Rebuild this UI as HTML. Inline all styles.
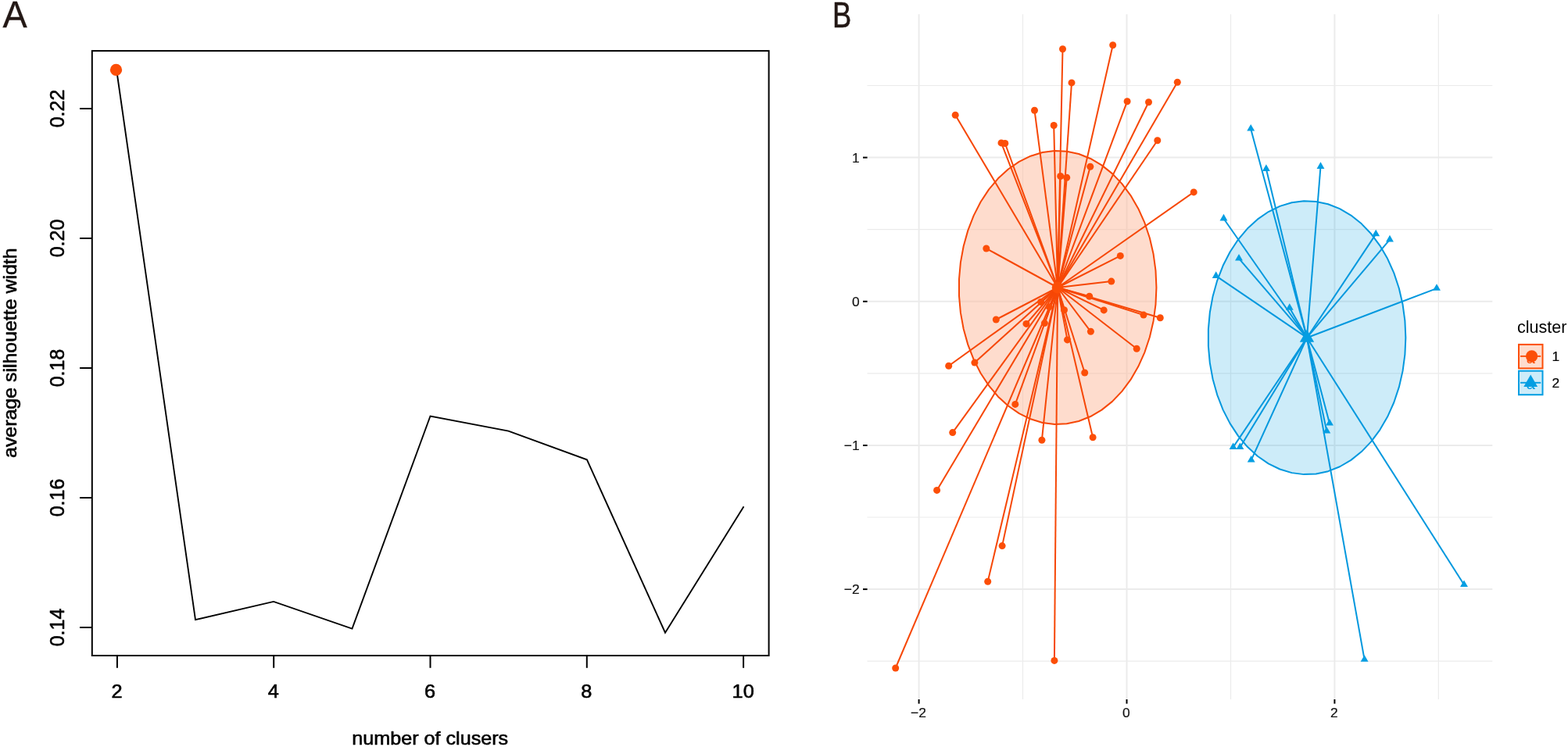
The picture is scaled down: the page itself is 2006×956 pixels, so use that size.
<!DOCTYPE html>
<html lang="en">
<head>
<meta charset="utf-8">
<title>Silhouette width and cluster plot</title>
<style>
html,body{margin:0;padding:0;background:#ffffff;}
body{width:2006px;height:956px;overflow:hidden;font-family:"Liberation Sans",sans-serif;}
svg{display:block;}
</style>
</head>
<body>
<svg width="2006" height="956" viewBox="0 0 2006 956" font-family="Liberation Sans, sans-serif">
<rect x="0" y="0" width="2006" height="956" fill="#ffffff"/>
<g id="panelA">
<text x="3.5" y="35.4" font-size="47.3" fill="#231815" stroke="#231815" stroke-width="0.3" textLength="31.2" lengthAdjust="spacingAndGlyphs">A</text>
<rect x="117.8" y="65.1" width="865.8" height="773.9" fill="none" stroke="#000" stroke-width="2"/>
<g stroke="#000" stroke-width="2" fill="none">
<line x1="149.9" y1="839.0" x2="149.9" y2="854.8"/>
<line x1="350.2" y1="839.0" x2="350.2" y2="854.8"/>
<line x1="550.5" y1="839.0" x2="550.5" y2="854.8"/>
<line x1="750.8" y1="839.0" x2="750.8" y2="854.8"/>
<line x1="951.1" y1="839.0" x2="951.1" y2="854.8"/>
<line x1="102" y1="139.0" x2="117.8" y2="139.0"/>
<line x1="102" y1="305.0" x2="117.8" y2="305.0"/>
<line x1="102" y1="471.0" x2="117.8" y2="471.0"/>
<line x1="102" y1="637.0" x2="117.8" y2="637.0"/>
<line x1="102" y1="803.0" x2="117.8" y2="803.0"/>
</g>
<g font-size="25" fill="#000" stroke="#000" stroke-width="0.6" stroke-linejoin="round" text-anchor="middle">
<text transform="translate(149.5 893.4) scale(1.07 1)" font-size="23.7">2</text>
<text transform="translate(349.8 893.4) scale(1.07 1)" font-size="23.7">4</text>
<text transform="translate(550.1 893.4) scale(1.07 1)" font-size="23.7">6</text>
<text transform="translate(750.4 893.4) scale(1.07 1)" font-size="23.7">8</text>
<text transform="translate(950.7 893.4) scale(1.07 1)" font-size="23.7">10</text>
<text transform="translate(82 139.0) rotate(-90)">0.22</text>
<text transform="translate(82 305.0) rotate(-90)">0.20</text>
<text transform="translate(82 471.0) rotate(-90)">0.18</text>
<text transform="translate(82 637.0) rotate(-90)">0.16</text>
<text transform="translate(82 803.0) rotate(-90)">0.14</text>
<text x="550.2" y="952.8" font-size="23.8" textLength="200" lengthAdjust="spacingAndGlyphs">number of clusers</text>
<text transform="translate(21.2 451.7) rotate(-90)" font-size="23.8" textLength="268.5" lengthAdjust="spacingAndGlyphs">average silhouette width</text>
</g>
<polyline fill="none" stroke="#000" stroke-width="1.9" stroke-linejoin="miter" points="149.1,89.5 250,793.1 350,769.9 450.5,804.6 550.5,532.5 650.5,551.6 750.9,588.3 851,809.7 951.5,648.3"/>
<circle cx="148.5" cy="89.45" r="7.65" fill="#FC4E07"/>
</g>
<g id="panelB">
<text x="1065" y="35.2" font-size="45.3" fill="#231815" stroke="#231815" stroke-width="0.6" textLength="24.2" lengthAdjust="spacingAndGlyphs">B</text>
<g stroke="#EBEBEB" fill="none">
<line x1="1308.5" y1="18.3" x2="1308.5" y2="894.9" stroke-width="1.2"/>
<line x1="1574.5" y1="18.3" x2="1574.5" y2="894.9" stroke-width="1.2"/>
<line x1="1840.3" y1="18.3" x2="1840.3" y2="894.9" stroke-width="1.2"/>
<line x1="1109.5" y1="109.5" x2="1909.3" y2="109.5" stroke-width="1.2"/>
<line x1="1109.5" y1="293.6" x2="1909.3" y2="293.6" stroke-width="1.2"/>
<line x1="1109.5" y1="477.9" x2="1909.3" y2="477.9" stroke-width="1.2"/>
<line x1="1109.5" y1="662.0" x2="1909.3" y2="662.0" stroke-width="1.2"/>
<line x1="1109.5" y1="846.2" x2="1909.3" y2="846.2" stroke-width="1.2"/>
<line x1="1175.6" y1="18.3" x2="1175.6" y2="894.9" stroke-width="2"/>
<line x1="1441.5" y1="18.3" x2="1441.5" y2="894.9" stroke-width="2"/>
<line x1="1707.4" y1="18.3" x2="1707.4" y2="894.9" stroke-width="2"/>
<line x1="1109.5" y1="201.6" x2="1909.3" y2="201.6" stroke-width="2"/>
<line x1="1109.5" y1="385.8" x2="1909.3" y2="385.8" stroke-width="2"/>
<line x1="1109.5" y1="570.0" x2="1909.3" y2="570.0" stroke-width="2"/>
<line x1="1109.5" y1="754.1" x2="1909.3" y2="754.1" stroke-width="2"/>
</g>
<g stroke="#000" stroke-width="2" fill="none">
<line x1="1175.6" y1="895" x2="1175.6" y2="900.6"/>
<line x1="1441.5" y1="895" x2="1441.5" y2="900.6"/>
<line x1="1707.4" y1="895" x2="1707.4" y2="900.6"/>
<line x1="1104" y1="201.6" x2="1109.6" y2="201.6"/>
<line x1="1104" y1="385.8" x2="1109.6" y2="385.8"/>
<line x1="1104" y1="570.0" x2="1109.6" y2="570.0"/>
<line x1="1104" y1="754.1" x2="1109.6" y2="754.1"/>
</g>
<g font-size="17.4" fill="#111" stroke="#111" stroke-width="0.2">
<text x="1175.0" y="918.2" text-anchor="middle">−2</text>
<text x="1440.9" y="918.2" text-anchor="middle">0</text>
<text x="1706.8" y="918.2" text-anchor="middle">2</text>
<text x="1099.7" y="207.9" text-anchor="end">1</text>
<text x="1099.7" y="392.1" text-anchor="end">0</text>
<text x="1099.7" y="576.2" text-anchor="end">−1</text>
<text x="1099.7" y="760.4" text-anchor="end">−2</text>
</g>
<polygon points="1479.45,368.00 1478.49,346.49 1475.63,325.32 1470.92,304.78 1464.42,285.21 1456.23,266.89 1446.47,250.10 1435.31,235.10 1422.89,222.12 1409.42,211.35 1395.09,202.95 1380.13,197.05 1364.76,193.75 1349.21,193.08 1333.72,195.07 1318.52,199.68 1303.85,206.84 1289.92,216.45 1276.96,228.35 1265.14,242.37 1254.66,258.29 1245.68,275.87 1238.32,294.86 1232.70,314.95 1228.90,335.84 1226.99,357.23 1226.99,378.77 1228.90,400.16 1232.70,421.05 1238.32,441.14 1245.68,460.13 1254.66,477.71 1265.14,493.63 1276.96,507.65 1289.92,519.55 1303.85,529.16 1318.52,536.32 1333.72,540.93 1349.21,542.92 1364.76,542.25 1380.13,538.95 1395.09,533.05 1409.42,524.65 1422.89,513.88 1435.31,500.90 1446.47,485.90 1456.23,469.11 1464.42,450.79 1470.92,431.22 1475.63,410.68 1478.49,389.51" fill="#ffffff" fill-opacity="0.4" stroke="none"/>
<polygon points="1479.45,368.00 1478.49,346.49 1475.63,325.32 1470.92,304.78 1464.42,285.21 1456.23,266.89 1446.47,250.10 1435.31,235.10 1422.89,222.12 1409.42,211.35 1395.09,202.95 1380.13,197.05 1364.76,193.75 1349.21,193.08 1333.72,195.07 1318.52,199.68 1303.85,206.84 1289.92,216.45 1276.96,228.35 1265.14,242.37 1254.66,258.29 1245.68,275.87 1238.32,294.86 1232.70,314.95 1228.90,335.84 1226.99,357.23 1226.99,378.77 1228.90,400.16 1232.70,421.05 1238.32,441.14 1245.68,460.13 1254.66,477.71 1265.14,493.63 1276.96,507.65 1289.92,519.55 1303.85,529.16 1318.52,536.32 1333.72,540.93 1349.21,542.92 1364.76,542.25 1380.13,538.95 1395.09,533.05 1409.42,524.65 1422.89,513.88 1435.31,500.90 1446.47,485.90 1456.23,469.11 1464.42,450.79 1470.92,431.22 1475.63,410.68 1478.49,389.51" fill="#FC4E07" fill-opacity="0.2" stroke="#F64706" stroke-width="2" stroke-linejoin="round"/>
<polygon points="1798.35,432.20 1797.39,410.69 1794.53,389.52 1789.82,368.98 1783.32,349.41 1775.13,331.09 1765.37,314.30 1754.21,299.30 1741.79,286.32 1728.32,275.55 1713.99,267.15 1699.03,261.25 1683.66,257.95 1668.11,257.28 1652.62,259.27 1637.42,263.88 1622.75,271.04 1608.83,280.65 1595.86,292.55 1584.04,306.57 1573.56,322.49 1564.58,340.07 1557.22,359.06 1551.60,379.15 1547.80,400.04 1545.89,421.43 1545.89,442.97 1547.80,464.36 1551.60,485.25 1557.22,505.34 1564.58,524.33 1573.56,541.91 1584.04,557.83 1595.86,571.85 1608.83,583.75 1622.75,593.36 1637.42,600.52 1652.62,605.13 1668.11,607.12 1683.66,606.45 1699.03,603.15 1713.99,597.25 1728.32,588.85 1741.79,578.08 1754.21,565.10 1765.37,550.10 1775.13,533.31 1783.32,514.99 1789.82,495.42 1794.53,474.88 1797.39,453.71" fill="#049EE2" fill-opacity="0.2" stroke="#0398DE" stroke-width="2" stroke-linejoin="round"/>
<g stroke="#F64706" stroke-width="2" stroke-linecap="butt" fill="none">
<line x1="1353.1" y1="368.0" x2="1222.2" y2="147.3"/>
<line x1="1353.1" y1="368.0" x2="1281" y2="182.9"/>
<line x1="1353.1" y1="368.0" x2="1285.8" y2="183.5"/>
<line x1="1353.1" y1="368.0" x2="1323.5" y2="141.2"/>
<line x1="1353.1" y1="368.0" x2="1359.5" y2="62.8"/>
<line x1="1353.1" y1="368.0" x2="1423.7" y2="57.8"/>
<line x1="1353.1" y1="368.0" x2="1371" y2="105.9"/>
<line x1="1353.1" y1="368.0" x2="1506.3" y2="105.3"/>
<line x1="1353.1" y1="368.0" x2="1442.1" y2="129.7"/>
<line x1="1353.1" y1="368.0" x2="1469.5" y2="130.8"/>
<line x1="1353.1" y1="368.0" x2="1348.2" y2="160.5"/>
<line x1="1353.1" y1="368.0" x2="1480.8" y2="179.7"/>
<line x1="1353.1" y1="368.0" x2="1394.8" y2="213.2"/>
<line x1="1353.1" y1="368.0" x2="1356.7" y2="225.5"/>
<line x1="1353.1" y1="368.0" x2="1364.7" y2="227.2"/>
<line x1="1353.1" y1="368.0" x2="1261.8" y2="318"/>
<line x1="1353.1" y1="368.0" x2="1274.3" y2="409"/>
<line x1="1353.1" y1="368.0" x2="1313" y2="414.4"/>
<line x1="1353.1" y1="368.0" x2="1331.6" y2="386.4"/>
<line x1="1353.1" y1="368.0" x2="1336.4" y2="413.6"/>
<line x1="1353.1" y1="368.0" x2="1527.2" y2="245.9"/>
<line x1="1353.1" y1="368.0" x2="1433.3" y2="327.4"/>
<line x1="1353.1" y1="368.0" x2="1421.8" y2="360.1"/>
<line x1="1353.1" y1="368.0" x2="1393.7" y2="379.2"/>
<line x1="1353.1" y1="368.0" x2="1412.2" y2="396.9"/>
<line x1="1353.1" y1="368.0" x2="1463" y2="403.1"/>
<line x1="1353.1" y1="368.0" x2="1484.3" y2="406.7"/>
<line x1="1353.1" y1="368.0" x2="1361.5" y2="396.7"/>
<line x1="1353.1" y1="368.0" x2="1395.4" y2="424.3"/>
<line x1="1353.1" y1="368.0" x2="1365.5" y2="434.9"/>
<line x1="1353.1" y1="368.0" x2="1342.3" y2="392.7"/>
<line x1="1353.1" y1="368.0" x2="1213.7" y2="468.2"/>
<line x1="1353.1" y1="368.0" x2="1246.9" y2="464.1"/>
<line x1="1353.1" y1="368.0" x2="1298.8" y2="517.4"/>
<line x1="1353.1" y1="368.0" x2="1218.7" y2="553.6"/>
<line x1="1353.1" y1="368.0" x2="1332.9" y2="563.2"/>
<line x1="1353.1" y1="368.0" x2="1198.6" y2="627.4"/>
<line x1="1353.1" y1="368.0" x2="1454.2" y2="446.3"/>
<line x1="1353.1" y1="368.0" x2="1387.7" y2="477"/>
<line x1="1353.1" y1="368.0" x2="1398.1" y2="559.8"/>
<line x1="1353.1" y1="368.0" x2="1282.1" y2="698.6"/>
<line x1="1353.1" y1="368.0" x2="1263.7" y2="744.2"/>
<line x1="1353.1" y1="368.0" x2="1145.7" y2="855"/>
<line x1="1353.1" y1="368.0" x2="1348.9" y2="845.4"/>
</g>
<g stroke="#0398DE" stroke-width="2" stroke-linecap="butt" fill="none">
<line x1="1672.0" y1="432.2" x2="1600.2" y2="164.9"/>
<line x1="1672.0" y1="432.2" x2="1619.9" y2="216.2"/>
<line x1="1672.0" y1="432.2" x2="1689.5" y2="213.2"/>
<line x1="1672.0" y1="432.2" x2="1565.5" y2="279.7"/>
<line x1="1672.0" y1="432.2" x2="1585" y2="330.8"/>
<line x1="1672.0" y1="432.2" x2="1555.7" y2="353.2"/>
<line x1="1672.0" y1="432.2" x2="1649.8" y2="394"/>
<line x1="1672.0" y1="432.2" x2="1577.6" y2="572.4"/>
<line x1="1672.0" y1="432.2" x2="1586.4" y2="572.4"/>
<line x1="1672.0" y1="432.2" x2="1600.7" y2="588.8"/>
<line x1="1672.0" y1="432.2" x2="1701" y2="541.9"/>
<line x1="1672.0" y1="432.2" x2="1697.3" y2="551.9"/>
<line x1="1672.0" y1="432.2" x2="1760.2" y2="299.6"/>
<line x1="1672.0" y1="432.2" x2="1778" y2="306.7"/>
<line x1="1672.0" y1="432.2" x2="1838" y2="369.1"/>
<line x1="1672.0" y1="432.2" x2="1745.6" y2="844.1"/>
<line x1="1672.0" y1="432.2" x2="1873" y2="748.3"/>
</g>
<g fill="#FC4E07">
<circle cx="1222.2" cy="147.3" r="4.5"/>
<circle cx="1281" cy="182.9" r="4.5"/>
<circle cx="1285.8" cy="183.5" r="4.5"/>
<circle cx="1323.5" cy="141.2" r="4.5"/>
<circle cx="1359.5" cy="62.8" r="4.5"/>
<circle cx="1423.7" cy="57.8" r="4.5"/>
<circle cx="1371" cy="105.9" r="4.5"/>
<circle cx="1506.3" cy="105.3" r="4.5"/>
<circle cx="1442.1" cy="129.7" r="4.5"/>
<circle cx="1469.5" cy="130.8" r="4.5"/>
<circle cx="1348.2" cy="160.5" r="4.5"/>
<circle cx="1480.8" cy="179.7" r="4.5"/>
<circle cx="1394.8" cy="213.2" r="4.5"/>
<circle cx="1356.7" cy="225.5" r="4.5"/>
<circle cx="1364.7" cy="227.2" r="4.5"/>
<circle cx="1261.8" cy="318" r="4.5"/>
<circle cx="1274.3" cy="409" r="4.5"/>
<circle cx="1313" cy="414.4" r="4.5"/>
<circle cx="1331.6" cy="386.4" r="4.5"/>
<circle cx="1336.4" cy="413.6" r="4.5"/>
<circle cx="1527.2" cy="245.9" r="4.5"/>
<circle cx="1433.3" cy="327.4" r="4.5"/>
<circle cx="1421.8" cy="360.1" r="4.5"/>
<circle cx="1393.7" cy="379.2" r="4.5"/>
<circle cx="1412.2" cy="396.9" r="4.5"/>
<circle cx="1463" cy="403.1" r="4.5"/>
<circle cx="1484.3" cy="406.7" r="4.5"/>
<circle cx="1361.5" cy="396.7" r="4.5"/>
<circle cx="1395.4" cy="424.3" r="4.5"/>
<circle cx="1365.5" cy="434.9" r="4.5"/>
<circle cx="1342.3" cy="392.7" r="4.5"/>
<circle cx="1213.7" cy="468.2" r="4.5"/>
<circle cx="1246.9" cy="464.1" r="4.5"/>
<circle cx="1298.8" cy="517.4" r="4.5"/>
<circle cx="1218.7" cy="553.6" r="4.5"/>
<circle cx="1332.9" cy="563.2" r="4.5"/>
<circle cx="1198.6" cy="627.4" r="4.5"/>
<circle cx="1454.2" cy="446.3" r="4.5"/>
<circle cx="1387.7" cy="477" r="4.5"/>
<circle cx="1398.1" cy="559.8" r="4.5"/>
<circle cx="1282.1" cy="698.6" r="4.5"/>
<circle cx="1263.7" cy="744.2" r="4.5"/>
<circle cx="1145.7" cy="855" r="4.5"/>
<circle cx="1348.9" cy="845.4" r="4.5"/>
<circle cx="1353.1" cy="368.0" r="7.4"/>
</g>
<g fill="#049EE2">
<polygon points="1600.20,159.05 1605.14,167.60 1595.26,167.60"/>
<polygon points="1619.90,210.35 1624.84,218.90 1614.96,218.90"/>
<polygon points="1689.50,207.35 1694.44,215.90 1684.56,215.90"/>
<polygon points="1565.50,273.85 1570.44,282.40 1560.56,282.40"/>
<polygon points="1585.00,324.95 1589.94,333.50 1580.06,333.50"/>
<polygon points="1555.70,347.35 1560.64,355.90 1550.76,355.90"/>
<polygon points="1649.80,388.15 1654.74,396.70 1644.86,396.70"/>
<polygon points="1577.60,566.55 1582.54,575.10 1572.66,575.10"/>
<polygon points="1586.40,566.55 1591.34,575.10 1581.46,575.10"/>
<polygon points="1600.70,582.95 1605.64,591.50 1595.76,591.50"/>
<polygon points="1701.00,536.05 1705.94,544.60 1696.06,544.60"/>
<polygon points="1697.30,546.05 1702.24,554.60 1692.36,554.60"/>
<polygon points="1760.20,293.75 1765.14,302.30 1755.26,302.30"/>
<polygon points="1778.00,300.85 1782.94,309.40 1773.06,309.40"/>
<polygon points="1838.00,363.25 1842.94,371.80 1833.06,371.80"/>
<polygon points="1745.60,838.25 1750.54,846.80 1740.66,846.80"/>
<polygon points="1873.00,742.45 1877.94,751.00 1868.06,751.00"/>
<polygon points="1672.00,421.80 1681.18,437.70 1662.82,437.70"/>
</g>
<g id="legend">
<text x="1941" y="425.6" font-size="21.5" fill="#000" textLength="63.4" lengthAdjust="spacingAndGlyphs">cluster</text>
<rect x="1943" y="440.9" width="30.5" height="30.5" fill="#FC4E07" fill-opacity="0.2" stroke="#FC4E07" stroke-width="2"/>
<text x="1958.2" y="465" font-size="20" fill="#FC4E07" text-anchor="middle">a</text>
<line x1="1945" y1="455.9" x2="1971.2" y2="455.9" stroke="#FC4E07" stroke-width="1.9"/>
<circle cx="1959.6" cy="455.9" r="7.6" fill="#FC4E07"/>
<rect x="1943" y="474.7" width="30.5" height="30.5" fill="#049EE2" fill-opacity="0.2" stroke="#049EE2" stroke-width="2"/>
<text x="1958.2" y="498.1" font-size="20" fill="#049EE2" text-anchor="middle">a</text>
<line x1="1945" y1="489.8" x2="1971.2" y2="489.8" stroke="#049EE2" stroke-width="1.9"/>
<g fill="#049EE2"><polygon points="1958.20,479.50 1967.12,494.95 1949.28,494.95"/></g>
<g font-size="17.4" fill="#000" stroke="#000" stroke-width="0.2" text-anchor="middle">
<text x="1990.4" y="462">1</text>
<text x="1990.4" y="496">2</text>
</g>
</g>
</g>
</svg>
</body>
</html>
